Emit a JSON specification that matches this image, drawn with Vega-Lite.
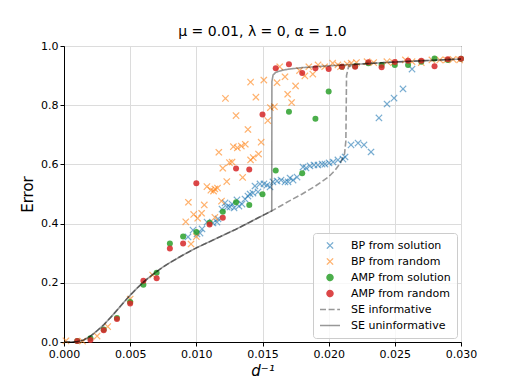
{
  "$schema": "https://vega.github.io/schema/vega-lite/v6.json",
  "width": 397,
  "height": 296,
  "autosize": {"type": "none"},
  "padding": {"left": 64, "top": 46, "right": 51, "bottom": 42},
  "title": {"text": "μ = 0.01, λ = 0, α = 1.0", "font": "DejaVu Sans", "fontSize": 14, "fontWeight": "normal", "color": "#000000", "offset": 1},
  "datasets": {
    "pts": [
      {"series": "BP from solution", "x": 0.00937, "y": 0.355},
      {"series": "BP from solution", "x": 0.00975, "y": 0.378},
      {"series": "BP from solution", "x": 0.01005, "y": 0.365},
      {"series": "BP from solution", "x": 0.01028, "y": 0.368},
      {"series": "BP from solution", "x": 0.01043, "y": 0.382},
      {"series": "BP from solution", "x": 0.01081, "y": 0.405},
      {"series": "BP from solution", "x": 0.01126, "y": 0.402},
      {"series": "BP from solution", "x": 0.01156, "y": 0.405},
      {"series": "BP from solution", "x": 0.01164, "y": 0.416},
      {"series": "BP from solution", "x": 0.01194, "y": 0.449},
      {"series": "BP from solution", "x": 0.01217, "y": 0.47},
      {"series": "BP from solution", "x": 0.01232, "y": 0.456},
      {"series": "BP from solution", "x": 0.01254, "y": 0.456},
      {"series": "BP from solution", "x": 0.0127, "y": 0.466},
      {"series": "BP from solution", "x": 0.01285, "y": 0.453},
      {"series": "BP from solution", "x": 0.01307, "y": 0.48},
      {"series": "BP from solution", "x": 0.01322, "y": 0.459},
      {"series": "BP from solution", "x": 0.01345, "y": 0.466},
      {"series": "BP from solution", "x": 0.01368, "y": 0.483},
      {"series": "BP from solution", "x": 0.0139, "y": 0.493},
      {"series": "BP from solution", "x": 0.01406, "y": 0.5},
      {"series": "BP from solution", "x": 0.01428, "y": 0.503},
      {"series": "BP from solution", "x": 0.01443, "y": 0.527},
      {"series": "BP from solution", "x": 0.01466, "y": 0.507},
      {"series": "BP from solution", "x": 0.01481, "y": 0.534},
      {"series": "BP from solution", "x": 0.01511, "y": 0.534},
      {"series": "BP from solution", "x": 0.01534, "y": 0.53},
      {"series": "BP from solution", "x": 0.01557, "y": 0.524},
      {"series": "BP from solution", "x": 0.01579, "y": 0.541},
      {"series": "BP from solution", "x": 0.0161, "y": 0.544},
      {"series": "BP from solution", "x": 0.0164, "y": 0.547},
      {"series": "BP from solution", "x": 0.0167, "y": 0.541},
      {"series": "BP from solution", "x": 0.01693, "y": 0.541},
      {"series": "BP from solution", "x": 0.01708, "y": 0.554},
      {"series": "BP from solution", "x": 0.01731, "y": 0.547},
      {"series": "BP from solution", "x": 0.01761, "y": 0.557},
      {"series": "BP from solution", "x": 0.01806, "y": 0.591},
      {"series": "BP from solution", "x": 0.01829, "y": 0.588},
      {"series": "BP from solution", "x": 0.01859, "y": 0.595},
      {"series": "BP from solution", "x": 0.01889, "y": 0.598},
      {"series": "BP from solution", "x": 0.01919, "y": 0.598},
      {"series": "BP from solution", "x": 0.0195, "y": 0.601},
      {"series": "BP from solution", "x": 0.01972, "y": 0.601},
      {"series": "BP from solution", "x": 0.02003, "y": 0.605},
      {"series": "BP from solution", "x": 0.02033, "y": 0.608},
      {"series": "BP from solution", "x": 0.0207, "y": 0.615},
      {"series": "BP from solution", "x": 0.02108, "y": 0.618},
      {"series": "BP from solution", "x": 0.02124, "y": 0.625},
      {"series": "BP from solution", "x": 0.02169, "y": 0.666},
      {"series": "BP from solution", "x": 0.02222, "y": 0.672},
      {"series": "BP from solution", "x": 0.02267, "y": 0.666},
      {"series": "BP from solution", "x": 0.0232, "y": 0.642},
      {"series": "BP from solution", "x": 0.0238, "y": 0.757},
      {"series": "BP from solution", "x": 0.02441, "y": 0.804},
      {"series": "BP from solution", "x": 0.02494, "y": 0.824},
      {"series": "BP from solution", "x": 0.02562, "y": 0.855},
      {"series": "BP from solution", "x": 0.0263, "y": 0.922},

      {"series": "BP from random", "x": 0.00015, "y": 0.004},
      {"series": "BP from random", "x": 0.0014, "y": 0.003},
      {"series": "BP from random", "x": 0.0025, "y": 0.02},
      {"series": "BP from random", "x": 0.0033, "y": 0.052},
      {"series": "BP from random", "x": 0.005, "y": 0.145},
      {"series": "BP from random", "x": 0.0067, "y": 0.226},
      {"series": "BP from random", "x": 0.0096, "y": 0.331},
      {"series": "BP from random", "x": 0.01, "y": 0.356},
      {"series": "BP from random", "x": 0.0092, "y": 0.406},
      {"series": "BP from random", "x": 0.0098, "y": 0.431},
      {"series": "BP from random", "x": 0.0101, "y": 0.418},
      {"series": "BP from random", "x": 0.0104, "y": 0.435},
      {"series": "BP from random", "x": 0.0106, "y": 0.463},
      {"series": "BP from random", "x": 0.0094, "y": 0.472},
      {"series": "BP from random", "x": 0.0114, "y": 0.421},
      {"series": "BP from random", "x": 0.0119, "y": 0.476},
      {"series": "BP from random", "x": 0.0108, "y": 0.525},
      {"series": "BP from random", "x": 0.0111, "y": 0.513},
      {"series": "BP from random", "x": 0.0113, "y": 0.51},
      {"series": "BP from random", "x": 0.0114, "y": 0.517},
      {"series": "BP from random", "x": 0.0116, "y": 0.52},
      {"series": "BP from random", "x": 0.0123, "y": 0.542},
      {"series": "BP from random", "x": 0.0135, "y": 0.556},
      {"series": "BP from random", "x": 0.012, "y": 0.587},
      {"series": "BP from random", "x": 0.0125, "y": 0.606},
      {"series": "BP from random", "x": 0.0127, "y": 0.608},
      {"series": "BP from random", "x": 0.0117, "y": 0.641},
      {"series": "BP from random", "x": 0.0128, "y": 0.66},
      {"series": "BP from random", "x": 0.0131, "y": 0.656},
      {"series": "BP from random", "x": 0.0134, "y": 0.662},
      {"series": "BP from random", "x": 0.0137, "y": 0.668},
      {"series": "BP from random", "x": 0.0143, "y": 0.623},
      {"series": "BP from random", "x": 0.0147, "y": 0.635},
      {"series": "BP from random", "x": 0.0149, "y": 0.675},
      {"series": "BP from random", "x": 0.0141, "y": 0.615},
      {"series": "BP from random", "x": 0.0139, "y": 0.718},
      {"series": "BP from random", "x": 0.0154, "y": 0.748},
      {"series": "BP from random", "x": 0.013, "y": 0.765},
      {"series": "BP from random", "x": 0.0156, "y": 0.792},
      {"series": "BP from random", "x": 0.0159, "y": 0.795},
      {"series": "BP from random", "x": 0.0122, "y": 0.823},
      {"series": "BP from random", "x": 0.0145, "y": 0.827},
      {"series": "BP from random", "x": 0.0169, "y": 0.837},
      {"series": "BP from random", "x": 0.0172, "y": 0.809},
      {"series": "BP from random", "x": 0.0141, "y": 0.878},
      {"series": "BP from random", "x": 0.0151, "y": 0.885},
      {"series": "BP from random", "x": 0.0161, "y": 0.876},
      {"series": "BP from random", "x": 0.0167, "y": 0.896},
      {"series": "BP from random", "x": 0.0175, "y": 0.865},
      {"series": "BP from random", "x": 0.0163, "y": 0.93},
      {"series": "BP from random", "x": 0.0178, "y": 0.917},
      {"series": "BP from random", "x": 0.0182, "y": 0.899},
      {"series": "BP from random", "x": 0.0188, "y": 0.905},
      {"series": "BP from random", "x": 0.0185, "y": 0.93},
      {"series": "BP from random", "x": 0.0192, "y": 0.936},
      {"series": "BP from random", "x": 0.0197, "y": 0.93},
      {"series": "BP from random", "x": 0.0203, "y": 0.942},
      {"series": "BP from random", "x": 0.0207, "y": 0.936},
      {"series": "BP from random", "x": 0.0209, "y": 0.93},
      {"series": "BP from random", "x": 0.0214, "y": 0.939},
      {"series": "BP from random", "x": 0.0217, "y": 0.942},
      {"series": "BP from random", "x": 0.0221, "y": 0.944},
      {"series": "BP from random", "x": 0.0229, "y": 0.947},
      {"series": "BP from random", "x": 0.0234, "y": 0.944},
      {"series": "BP from random", "x": 0.0244, "y": 0.947},
      {"series": "BP from random", "x": 0.0249, "y": 0.944},
      {"series": "BP from random", "x": 0.0258, "y": 0.953},
      {"series": "BP from random", "x": 0.0263, "y": 0.947},
      {"series": "BP from random", "x": 0.027, "y": 0.944},
      {"series": "BP from random", "x": 0.0278, "y": 0.953},
      {"series": "BP from random", "x": 0.0284, "y": 0.953},
      {"series": "BP from random", "x": 0.0289, "y": 0.953},
      {"series": "BP from random", "x": 0.0294, "y": 0.955},
      {"series": "BP from random", "x": 0.0299, "y": 0.953},

      {"series": "AMP from solution", "x": 0.001, "y": 0.003},
      {"series": "AMP from solution", "x": 0.002, "y": 0.013},
      {"series": "AMP from solution", "x": 0.003, "y": 0.042},
      {"series": "AMP from solution", "x": 0.004, "y": 0.081},
      {"series": "AMP from solution", "x": 0.005, "y": 0.135},
      {"series": "AMP from solution", "x": 0.006, "y": 0.193},
      {"series": "AMP from solution", "x": 0.007, "y": 0.234},
      {"series": "AMP from solution", "x": 0.008, "y": 0.333},
      {"series": "AMP from solution", "x": 0.009, "y": 0.356},
      {"series": "AMP from solution", "x": 0.01, "y": 0.372},
      {"series": "AMP from solution", "x": 0.011, "y": 0.403},
      {"series": "AMP from solution", "x": 0.012, "y": 0.44},
      {"series": "AMP from solution", "x": 0.013, "y": 0.472},
      {"series": "AMP from solution", "x": 0.014, "y": 0.463},
      {"series": "AMP from solution", "x": 0.015, "y": 0.499},
      {"series": "AMP from solution", "x": 0.016, "y": 0.579},
      {"series": "AMP from solution", "x": 0.017, "y": 0.778},
      {"series": "AMP from solution", "x": 0.018, "y": 0.57},
      {"series": "AMP from solution", "x": 0.019, "y": 0.754},
      {"series": "AMP from solution", "x": 0.02, "y": 0.846},
      {"series": "AMP from solution", "x": 0.021, "y": 0.93},
      {"series": "AMP from solution", "x": 0.022, "y": 0.932},
      {"series": "AMP from solution", "x": 0.023, "y": 0.942},
      {"series": "AMP from solution", "x": 0.024, "y": 0.936},
      {"series": "AMP from solution", "x": 0.025, "y": 0.936},
      {"series": "AMP from solution", "x": 0.026, "y": 0.936},
      {"series": "AMP from solution", "x": 0.027, "y": 0.947},
      {"series": "AMP from solution", "x": 0.028, "y": 0.958},
      {"series": "AMP from solution", "x": 0.029, "y": 0.953},
      {"series": "AMP from solution", "x": 0.03, "y": 0.957},

      {"series": "AMP from random", "x": 0.001, "y": 0.003},
      {"series": "AMP from random", "x": 0.002, "y": 0.007},
      {"series": "AMP from random", "x": 0.003, "y": 0.04},
      {"series": "AMP from random", "x": 0.004, "y": 0.078},
      {"series": "AMP from random", "x": 0.005, "y": 0.13},
      {"series": "AMP from random", "x": 0.006, "y": 0.207},
      {"series": "AMP from random", "x": 0.007, "y": 0.215},
      {"series": "AMP from random", "x": 0.008, "y": 0.316},
      {"series": "AMP from random", "x": 0.009, "y": 0.333},
      {"series": "AMP from random", "x": 0.01, "y": 0.536},
      {"series": "AMP from random", "x": 0.011, "y": 0.397},
      {"series": "AMP from random", "x": 0.012, "y": 0.42},
      {"series": "AMP from random", "x": 0.013, "y": 0.586},
      {"series": "AMP from random", "x": 0.014, "y": 0.583},
      {"series": "AMP from random", "x": 0.015, "y": 0.769},
      {"series": "AMP from random", "x": 0.016, "y": 0.925},
      {"series": "AMP from random", "x": 0.017, "y": 0.938},
      {"series": "AMP from random", "x": 0.018, "y": 0.909},
      {"series": "AMP from random", "x": 0.019, "y": 0.925},
      {"series": "AMP from random", "x": 0.02, "y": 0.922},
      {"series": "AMP from random", "x": 0.021, "y": 0.93},
      {"series": "AMP from random", "x": 0.022, "y": 0.93},
      {"series": "AMP from random", "x": 0.023, "y": 0.945},
      {"series": "AMP from random", "x": 0.024, "y": 0.928},
      {"series": "AMP from random", "x": 0.025, "y": 0.946},
      {"series": "AMP from random", "x": 0.026, "y": 0.95},
      {"series": "AMP from random", "x": 0.027, "y": 0.95},
      {"series": "AMP from random", "x": 0.028, "y": 0.932},
      {"series": "AMP from random", "x": 0.029, "y": 0.955},
      {"series": "AMP from random", "x": 0.03, "y": 0.957}
    ],
    "se": [
      {"series": "SE uninformative", "x": 0, "y": 0},
      {"series": "SE uninformative", "x": 0.001, "y": 0.001},
      {"series": "SE uninformative", "x": 0.0015, "y": 0.007},
      {"series": "SE uninformative", "x": 0.002, "y": 0.02},
      {"series": "SE uninformative", "x": 0.0025, "y": 0.038},
      {"series": "SE uninformative", "x": 0.003, "y": 0.058},
      {"series": "SE uninformative", "x": 0.0035, "y": 0.082},
      {"series": "SE uninformative", "x": 0.004, "y": 0.107},
      {"series": "SE uninformative", "x": 0.0045, "y": 0.133},
      {"series": "SE uninformative", "x": 0.005, "y": 0.158},
      {"series": "SE uninformative", "x": 0.0055, "y": 0.181},
      {"series": "SE uninformative", "x": 0.006, "y": 0.202},
      {"series": "SE uninformative", "x": 0.0065, "y": 0.221},
      {"series": "SE uninformative", "x": 0.007, "y": 0.238},
      {"series": "SE uninformative", "x": 0.0075, "y": 0.254},
      {"series": "SE uninformative", "x": 0.008, "y": 0.268},
      {"series": "SE uninformative", "x": 0.009, "y": 0.294},
      {"series": "SE uninformative", "x": 0.01, "y": 0.318},
      {"series": "SE uninformative", "x": 0.011, "y": 0.339},
      {"series": "SE uninformative", "x": 0.012, "y": 0.36},
      {"series": "SE uninformative", "x": 0.013, "y": 0.381},
      {"series": "SE uninformative", "x": 0.014, "y": 0.404},
      {"series": "SE uninformative", "x": 0.015, "y": 0.427},
      {"series": "SE uninformative", "x": 0.0157, "y": 0.443},
      {"series": "SE uninformative", "x": 0.01571, "y": 0.88},
      {"series": "SE uninformative", "x": 0.0158, "y": 0.902},
      {"series": "SE uninformative", "x": 0.016, "y": 0.911},
      {"series": "SE uninformative", "x": 0.0165, "y": 0.918},
      {"series": "SE uninformative", "x": 0.017, "y": 0.922},
      {"series": "SE uninformative", "x": 0.018, "y": 0.927},
      {"series": "SE uninformative", "x": 0.02, "y": 0.933},
      {"series": "SE uninformative", "x": 0.022, "y": 0.938},
      {"series": "SE uninformative", "x": 0.025, "y": 0.946},
      {"series": "SE uninformative", "x": 0.03, "y": 0.956},

      {"series": "SE informative", "x": 0, "y": 0},
      {"series": "SE informative", "x": 0.001, "y": 0.001},
      {"series": "SE informative", "x": 0.0015, "y": 0.007},
      {"series": "SE informative", "x": 0.002, "y": 0.02},
      {"series": "SE informative", "x": 0.0025, "y": 0.038},
      {"series": "SE informative", "x": 0.003, "y": 0.058},
      {"series": "SE informative", "x": 0.0035, "y": 0.082},
      {"series": "SE informative", "x": 0.004, "y": 0.107},
      {"series": "SE informative", "x": 0.0045, "y": 0.133},
      {"series": "SE informative", "x": 0.005, "y": 0.158},
      {"series": "SE informative", "x": 0.0055, "y": 0.181},
      {"series": "SE informative", "x": 0.006, "y": 0.202},
      {"series": "SE informative", "x": 0.0065, "y": 0.221},
      {"series": "SE informative", "x": 0.007, "y": 0.238},
      {"series": "SE informative", "x": 0.0075, "y": 0.254},
      {"series": "SE informative", "x": 0.008, "y": 0.268},
      {"series": "SE informative", "x": 0.009, "y": 0.294},
      {"series": "SE informative", "x": 0.01, "y": 0.318},
      {"series": "SE informative", "x": 0.011, "y": 0.339},
      {"series": "SE informative", "x": 0.012, "y": 0.36},
      {"series": "SE informative", "x": 0.013, "y": 0.381},
      {"series": "SE informative", "x": 0.014, "y": 0.404},
      {"series": "SE informative", "x": 0.015, "y": 0.427},
      {"series": "SE informative", "x": 0.0157, "y": 0.443},
      {"series": "SE informative", "x": 0.0165, "y": 0.463},
      {"series": "SE informative", "x": 0.017, "y": 0.476},
      {"series": "SE informative", "x": 0.018, "y": 0.5},
      {"series": "SE informative", "x": 0.019, "y": 0.527},
      {"series": "SE informative", "x": 0.02, "y": 0.558},
      {"series": "SE informative", "x": 0.0205, "y": 0.581},
      {"series": "SE informative", "x": 0.0209, "y": 0.606},
      {"series": "SE informative", "x": 0.0212, "y": 0.636},
      {"series": "SE informative", "x": 0.0213, "y": 0.68},
      {"series": "SE informative", "x": 0.02135, "y": 0.9},
      {"series": "SE informative", "x": 0.0215, "y": 0.93},
      {"series": "SE informative", "x": 0.022, "y": 0.938},
      {"series": "SE informative", "x": 0.025, "y": 0.946},
      {"series": "SE informative", "x": 0.03, "y": 0.956}
    ]
  },
  "encoding": {
    "x": {"field": "x", "type": "quantitative", "scale": {"domain": [0, 0.03], "nice": false},
      "axis": {"title": "d⁻¹", "values": [0, 0.005, 0.01, 0.015, 0.02, 0.025, 0.03], "format": ".3f", "titleFontStyle": "italic", "titlePadding": 4}},
    "y": {"field": "y", "type": "quantitative", "scale": {"domain": [0, 1], "nice": false},
      "axis": {"title": "Error", "values": [0, 0.2, 0.4, 0.6, 0.8, 1.0], "format": ".1f", "titlePadding": 5}},
    "color": {"field": "series", "type": "nominal", "legend": {"title": null},
      "scale": {"domain": ["BP from solution", "BP from random", "AMP from solution", "AMP from random", "SE informative", "SE uninformative"],
        "range": ["#1f77b4", "#ff7f0e", "#2ca02c", "#d62728", "#000000", "#000000"]}},
    "opacity": {"field": "series", "type": "nominal", "legend": {"title": null},
      "scale": {"type": "ordinal", "domain": ["BP from solution", "BP from random", "AMP from solution", "AMP from random", "SE informative", "SE uninformative"],
        "range": [0.6, 0.6, 0.85, 0.85, 0.4, 0.4]}},
    "strokeWidth": {"field": "series", "type": "nominal", "legend": {"title": null},
      "scale": {"type": "ordinal", "domain": ["BP from solution", "BP from random", "AMP from solution", "AMP from random", "SE informative", "SE uninformative"],
        "range": [1.2, 1.2, 1.4, 1.4, 1.6, 1.6]}},
    "strokeDash": {"field": "series", "type": "nominal", "legend": {"title": null},
      "scale": {"domain": ["BP from solution", "BP from random", "AMP from solution", "AMP from random", "SE informative", "SE uninformative"],
        "range": [[1, 0], [1, 0], [1, 0], [1, 0], [6, 2.6], [1, 0]]}}
  },
  "layer": [
    {"data": {"name": "pts"}, "transform": [{"filter": "indexof(datum.series,'BP')===0"}],
      "mark": {"type": "point", "filled": false},
      "encoding": {
        "shape": {"field": "series", "type": "nominal", "legend": {"title": null},
          "scale": {"domain": ["BP from solution", "BP from random", "AMP from solution", "AMP from random", "SE informative", "SE uninformative"],
            "range": ["M-1,-1L1,1M-1,1L1,-1", "M-1,-1L1,1M-1,1L1,-1",
              "M-0.9,0A0.9,0.9,0,1,0,0.9,0A0.9,0.9,0,1,0,-0.9,0M-0.55,0A0.55,0.55,0,1,0,0.55,0A0.55,0.55,0,1,0,-0.55,0M-0.2,0A0.2,0.2,0,1,0,0.2,0A0.2,0.2,0,1,0,-0.2,0",
              "M-0.9,0A0.9,0.9,0,1,0,0.9,0A0.9,0.9,0,1,0,-0.9,0M-0.55,0A0.55,0.55,0,1,0,0.55,0A0.55,0.55,0,1,0,-0.55,0M-0.2,0A0.2,0.2,0,1,0,0.2,0A0.2,0.2,0,1,0,-0.2,0",
              "stroke", "stroke"]}},
        "size": {"field": "series", "type": "nominal", "legend": {"title": null},
          "scale": {"type": "ordinal", "domain": ["BP from solution", "BP from random", "AMP from solution", "AMP from random", "SE informative", "SE uninformative"],
            "range": [40, 40, 45, 45, 400, 400]}}
      }},
    {"data": {"name": "pts"}, "transform": [{"filter": "indexof(datum.series,'AMP')===0"}],
      "mark": {"type": "circle", "size": 36}},
    {"data": {"name": "se"}, "transform": [{"filter": "indexof(datum.series,'SE')===0"}],
      "mark": {"type": "line"},
      "encoding": {"opacity": {"value": 0.4}, "strokeWidth": {"value": 1.6}}}
  ],
  "config": {
    "font": "DejaVu Sans",
    "view": {"stroke": "#000000", "strokeWidth": 1},
    "legend": {
      "orient": "bottom-right", "offset": 4, "padding": 6,
      "fillColor": "rgba(255,255,255,0.8)", "strokeColor": "#cccccc", "cornerRadius": 3,
      "labelFont": "DejaVu Sans", "labelFontSize": 11, "labelColor": "#000000",
      "rowPadding": 3, "labelOffset": 10, "symbolOffset": 0, "clipHeight": 13
    },
    "axis": {
      "domainColor": "#000000", "tickColor": "#000000", "tickSize": 4, "labelPadding": 2,
      "labelFont": "DejaVu Sans", "labelFontSize": 11, "labelColor": "#000000",
      "gridColor": "#dcdcdc", "gridWidth": 1,
      "titleFont": "DejaVu Sans", "titleFontSize": 15, "titleFontWeight": "normal", "titleColor": "#000000"
    },
    "axisX": {"labelFlush": false},
    "axisY": {"labelBaseline": "middle"}
  }
}
